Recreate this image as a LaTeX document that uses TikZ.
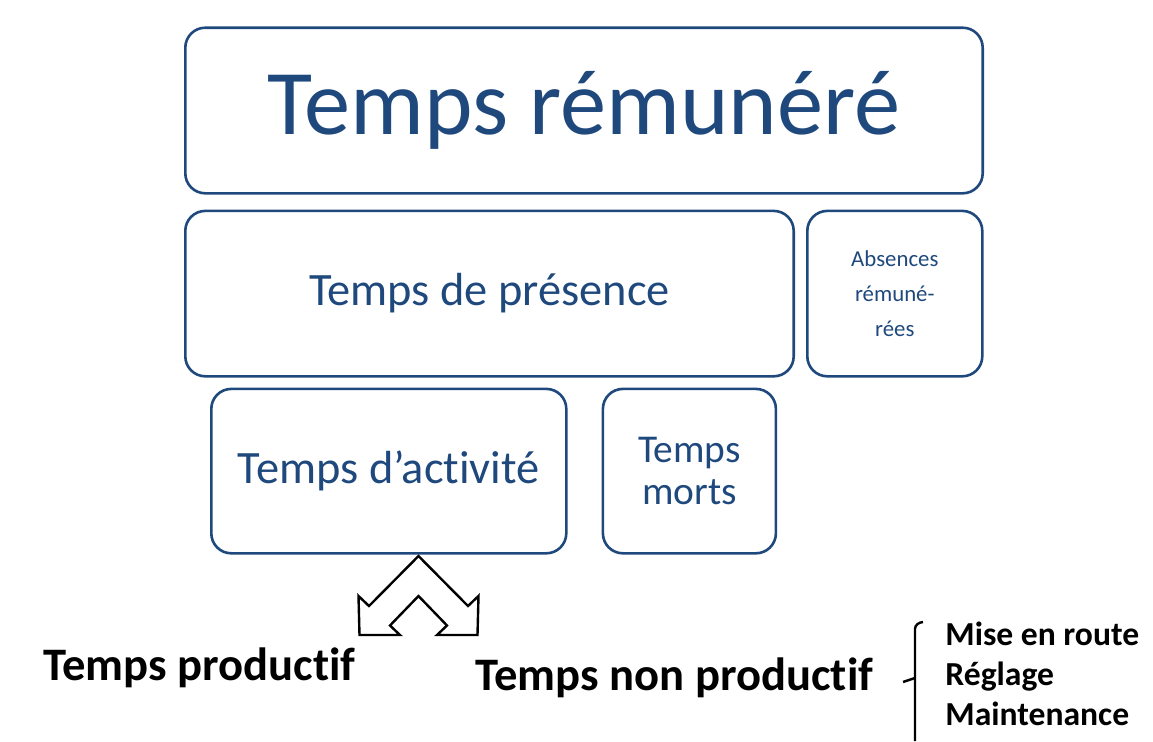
\documentclass[tikz,border=0pt]{standalone}
\usepackage{fontspec}
\setmainfont{Carlito}[Ligatures=NoCommon]
\usetikzlibrary{positioning}
\definecolor{boxblue}{RGB}{31,73,125}
\tikzset{node distance=5pt,
    box/.style={
        draw=boxblue,
        line width=1.3pt,
        rounded corners=10pt,
        text=boxblue,
        align=center,
        inner sep=0pt},
    outcome/.style={
        anchor=base west,
        inner sep=0pt,
        font=\fontsize{23.3}{28}\selectfont\bfseries},
    task/.style={
        anchor=base west,
        inner sep=0pt,
        font=\fontsize{16.8}{20}\selectfont\bfseries},
    split/.style={
        draw=black,
        fill=white,
        line width=1.2pt,
        line join=miter}}

\begin{document}
\begin{tikzpicture}[x=0.5pt,y=-0.5pt]
        \useasboundingbox (0,0) rectangle (1153,741);
        \node[box,minimum width=398.7pt,minimum height=82.8pt,font=\fontsize{46.2}{54}\selectfont] (1) at (584,110.5) {Temps rémunéré};
        \node[box,below=7.5pt of 1.south west,anchor=north west,minimum width=304.2pt,minimum height=82.7pt,font=\fontsize{23.2}{27}\selectfont] (2) {Temps de présence};
        \node[box,right=5.5pt of 2,minimum width=87.5pt,minimum height=82.7pt,font=\fontsize{11.4}{17.5}\selectfont] (3) {Absences\\rémuné-\\rées};
        \node[box,below right=5pt and 13pt of 2.south west,minimum width=177.5pt,minimum height=82.2pt,font=\fontsize{23.2}{27}\selectfont] (4) {Temps d’activité};
        \node[box,right=17pt of 4,minimum width=86.5pt,minimum height=82.2pt,font=\fontsize{19.7}{21}\selectfont] (5) {Temps\\morts};
        % double arrow under Temps d'activite
        \draw[split] (418.5,556) -- (369,606) -- (358.5,596) -- (359.5,635) -- (400,635) -- (390,625.5)
            -- (418.5,596) -- (447,625.5) -- (437,635) -- (477.5,635) -- (478.5,596) -- (468,606) -- cycle;
        \node[outcome] (6) at (43,680) {Temps productif};
        \node[outcome] (7) at (475,690.7) {Temps non productif};
        \node[task] (8) at (945,645) {Mise en route};
        \node[task] (9) at (945,685) {Réglage};
        \node[task] (10) at (945,725) {Maintenance};
        % brace
        \draw[line width=1.2pt] (923,622) to[out=185,in=90] (915,629) -- (915,741);
        \draw[line width=1.2pt] (903,682) -- (915,678);
    \end{tikzpicture}
\end{document}
